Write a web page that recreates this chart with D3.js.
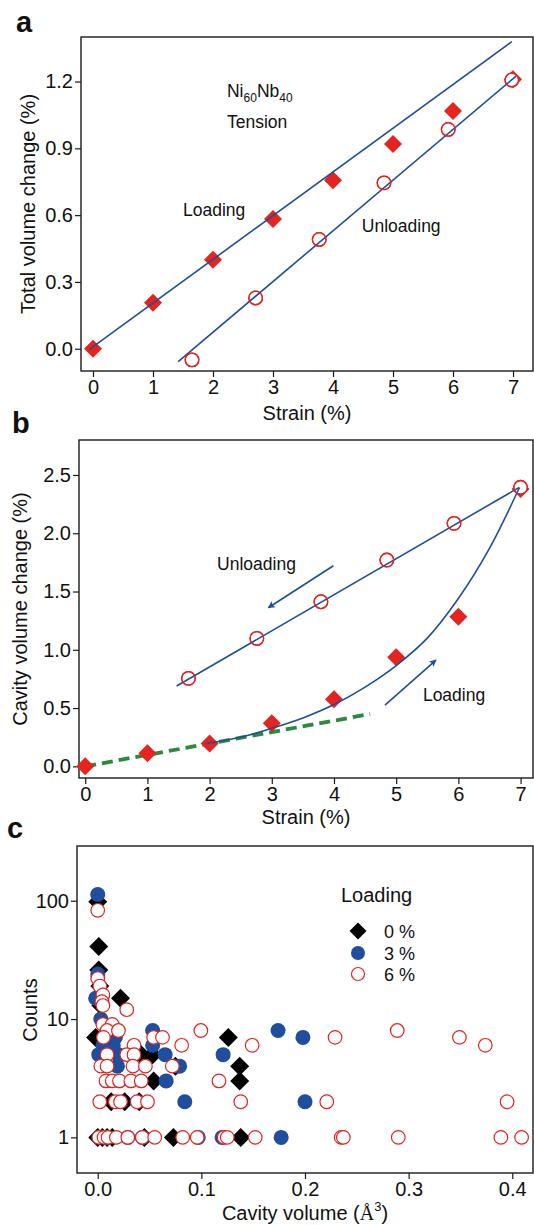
<!DOCTYPE html>
<html><head><meta charset="utf-8">
<script src="https://cdn.jsdelivr.net/npm/d3@7"></script>
<style>
body{margin:0;background:#fff}
svg{display:block;font-family:"Liberation Sans",Arial,sans-serif}
</style></head><body>
<svg id="fig" width="534" height="1225"></svg>
<script>
// ---------- Panel a data ----------
const strainLoadA = [0, 1, 2, 3, 4, 5, 6, 7];
const totalLoadA = [0, 0.206, 0.40, 0.583, 0.757, 0.919, 1.068, 1.21];
const strainUnloadA = [1.65, 2.71, 3.77, 4.85, 5.92, 6.98];
const totalUnloadA = [-0.05, 0.228, 0.491, 0.745, 0.985, 1.207];
const fitLoadA = [[-0.06, -0.003], [6.98, 1.379]];
const fitUnloadA = [[1.42, -0.058], [7.05, 1.224]];
const xTicksA = [0, 1, 2, 3, 4, 5, 6, 7];
const yTicksA = [0, 0.3, 0.6, 0.9, 1.2];

// ---------- Panel b data ----------
const strainLoadB = [0, 1, 2, 3, 4, 5, 6, 7];
const cavLoadB = [0, 0.112, 0.197, 0.369, 0.575, 0.935, 1.284, 2.38];
const strainUnloadB = [1.66, 2.76, 3.79, 4.85, 5.93, 7.0];
const cavUnloadB = [0.755, 1.098, 1.412, 1.77, 2.085, 2.394];
const fitUnloadB = [[1.47, 0.689], [6.98, 2.394]];
const fitLoadB = [[1.95, 0.197], [2.5, 0.25], [3, 0.326], [3.5, 0.415], [4, 0.53], [4.5, 0.68], [5, 0.865], [5.5, 1.1], [6, 1.44], [6.5, 1.87], [6.98, 2.39]];
const linearB = [[0, 0], [4.58, 0.449]];
const arrowUnloadB = [[3.99, 1.721], [2.944, 1.361]];
const arrowLoadB = [[4.82, 0.526], [5.64, 0.912]];
const xTicksB = [0, 1, 2, 3, 4, 5, 6, 7];
const yTicksB = [0, 0.5, 1.0, 1.5, 2.0, 2.5];

// ---------- Panel c data ----------
const volume0 = [0.000, 0.001, 0.001, 0.002, 0.003, 0.022, -0.002, 0.042, 0.053, 0.075, 0.126, 0.137, 0.137, 0.054, 0.013, 0.026, 0.040, 0.000, 0.0045, 0.009, 0.014, 0.045, 0.073, 0.138];
const counts0 = [98, 41, 26, 19, 13, 15, 7, 5, 5, 4, 7, 4, 3, 3, 2, 2, 2, 1, 1, 1, 1, 1, 1, 1];
const volume3 = [0.000, 0.000, -0.002, 0.003, 0.005, 0.015, 0.017, 0.001, 0.006, 0.019, 0.020, 0.053, 0.053, 0.065, 0.079, 0.066, 0.084, 0.121, 0.174, 0.198, 0.200, 0.177, 0.029, 0.043, 0.097, 0.120, 0.010];
const counts3 = [113, 24, 15, 10, 6, 6, 7, 5, 5, 4, 5, 8, 6, 5, 4, 3, 2, 5, 8, 7, 2, 1, 1, 1, 1, 1, 1];
const volume6 = [0.000, 0.000, 0.002, 0.005, 0.004, 0.005, 0.028,
  0.005, 0.014, 0.009, 0.020, 0.0995,
  0.0055, 0.054, 0.0625,
  0.035, 0.081, 0.149,
  0.009, 0.028, 0.035,
  0.003, 0.009, 0.034, 0.046, 0.072,
  0.008, 0.014, 0.021, 0.032, 0.042, 0.117,
  0.002, 0.017, 0.022, 0.038, 0.048, 0.138,
  0.001, 0.006, 0.010, 0.018, 0.029, 0.043, 0.055, 0.082, 0.096, 0.122, 0.125, 0.152,
  0.229, 0.289, 0.349, 0.374, 0.221, 0.395, 0.235, 0.237, 0.290, 0.389, 0.409];
const counts6 = [83, 22, 19, 16, 14, 13, 12,
  9, 9, 8, 8, 8,
  7, 7, 7,
  6, 6, 6,
  5, 5, 5,
  4, 4, 4, 4, 4,
  3, 3, 3, 3, 3, 3,
  2, 2, 2, 2, 2, 2,
  1, 1, 1, 1, 1, 1, 1, 1, 1, 1, 1, 1,
  7, 8, 7, 6, 2, 2, 1, 1, 1, 1, 1];
const xTicksC = [0, 0.1, 0.2, 0.3, 0.4];
const yTicksC = [1, 10, 100];
const legendLabels = ["0 %", "3 %", "6 %"];

// ---------- styling ----------
const RED = "#e5231f", BLUE = "#1f4e9e", GREEN = "#2b8a3c", AX = "#1a1a1a";
const svg = d3.select("#fig");
const diamond = s => `M0,${-s}L${s},0L0,${s}L${-s},0Z`;

function drawAxes(x, y, xMajor, xMinor, yMajor, yMinor, xFmt, yFmt) {
  const g = svg.append("g");
  const [x0, x1] = x.range(), [y0, y1] = y.range();
  const ax = g.append("g").attr("transform", `translate(0,${y0})`);
  ax.call(d3.axisBottom(x).tickValues(xMinor).tickSize(3.5).tickFormat(""));
  ax.call(d3.axisBottom(x).tickValues(xMajor).tickSize(6).tickPadding(3).tickFormat(xFmt));
  const ay = g.append("g").attr("transform", `translate(${x0},0)`);
  ay.call(d3.axisLeft(y).tickValues(yMinor).tickSize(3.5).tickFormat(""));
  ay.call(d3.axisLeft(y).tickValues(yMajor).tickSize(6).tickPadding(2).tickFormat(yFmt));
  g.selectAll(".domain").remove();
  g.selectAll(".tick line").attr("stroke", AX).attr("stroke-width", 1.2);
  g.selectAll(".tick text").attr("font-size", 20).attr("fill", "#111")
    .attr("font-family", '"Liberation Sans",Arial,sans-serif');
  g.append("rect").attr("x", x0).attr("y", y1).attr("width", x1 - x0).attr("height", y0 - y1)
    .attr("fill", "none").attr("stroke", AX).attr("stroke-width", 1.4);
  return g;
}
function text(x, y, s, size, opts = {}) {
  const t = svg.append("text").attr("x", x).attr("y", y).attr("font-size", size).attr("fill", "#111").text(s);
  if (opts.bold) t.attr("font-weight", "bold");
  if (opts.anchor) t.attr("text-anchor", opts.anchor);
  return t;
}
function yTitle(xp, yp, s) {
  return svg.append("text").attr("transform", `translate(${xp},${yp}) rotate(-90)`)
    .attr("text-anchor", "middle").attr("font-size", 20).attr("fill", "#111").text(s);
}
const line = d3.line();

// ================= Panel a =================
{
  const x = d3.scaleLinear().domain([-0.2, 7.333]).range([81, 533]);
  const y = d3.scaleLinear().domain([-0.1, 1.4]).range([371, 37]);
  drawAxes(x, y, xTicksA, d3.range(0.5, 7.3, 1), yTicksA, [0.15, 0.45, 0.75, 1.05, 1.35],
    d3.format("d"), d3.format(".1f"));
  const g = svg.append("g");
  g.selectAll(".dA").data(strainLoadA).join("path")
    .attr("transform", (d, i) => `translate(${x(d)},${y(totalLoadA[i])})`)
    .attr("d", diamond(9)).attr("fill", RED);
  g.selectAll(".cA").data(strainUnloadA).join("circle")
    .attr("cx", d => x(d)).attr("cy", (d, i) => y(totalUnloadA[i])).attr("r", 6.8)
    .attr("fill", "#fff").attr("stroke", RED).attr("stroke-width", 1.3);
  [fitLoadA, fitUnloadA].forEach(f => g.append("path")
    .attr("d", line(f.map(p => [x(p[0]), y(p[1])]))).attr("stroke", BLUE).attr("stroke-width", 1.6).attr("fill", "none"));
  g.selectAll(".cA2").data(strainUnloadA).join("circle")
    .attr("cx", d => x(d)).attr("cy", (d, i) => y(totalUnloadA[i])).attr("r", 6.8)
    .attr("fill", "none").attr("stroke", RED).attr("stroke-width", 1.3);
  // annotations
  const ni = text(x(2.233), y(1.132), "Ni", 17.5);
  ni.append("tspan").attr("font-size", 12).attr("dy", 5).text("60");
  ni.append("tspan").attr("dy", -5).text("Nb");
  ni.append("tspan").attr("font-size", 12).attr("dy", 5).text("40");
  text(x(2.233), y(0.991), "Tension", 17.5);
  text(x(1.5), y(0.596), "Loading", 17.5);
  text(x(4.48), y(0.524), "Unloading", 17.5);
  yTitle(35, 204, "Total volume change (%)");
  text(307, 420, "Strain (%)", 20, {anchor: "middle"});
  text(16, 32, "a", 29, {bold: true});
}

// ================= Panel b =================
{
  const x = d3.scaleLinear().domain([-0.1, 7.2]).range([79, 533]);
  const y = d3.scaleLinear().domain([-0.1, 2.8]).range([778, 440]);
  drawAxes(x, y, xTicksB, d3.range(0.5, 7.2, 1), yTicksB, [0.25, 0.75, 1.25, 1.75, 2.25, 2.75],
    d3.format("d"), d3.format(".1f"));
  const g = svg.append("g");
  g.append("path").attr("d", line(linearB.map(p => [x(p[0]), y(p[1])])))
    .attr("stroke", GREEN).attr("stroke-width", 3.8).attr("stroke-dasharray", "11,6").attr("fill", "none");
  g.selectAll(".dB").data(strainLoadB).join("path")
    .attr("transform", (d, i) => `translate(${x(d)},${y(cavLoadB[i])})`)
    .attr("d", diamond(9)).attr("fill", RED);
  g.selectAll(".cB").data(strainUnloadB).join("circle")
    .attr("cx", d => x(d)).attr("cy", (d, i) => y(cavUnloadB[i])).attr("r", 6.8)
    .attr("fill", "#fff").attr("stroke", RED).attr("stroke-width", 1.3);
  g.append("path").attr("d", line(fitUnloadB.map(p => [x(p[0]), y(p[1])])))
    .attr("stroke", BLUE).attr("stroke-width", 1.6).attr("fill", "none");
  g.append("path").attr("d", d3.line().curve(d3.curveCatmullRom)(fitLoadB.map(p => [x(p[0]), y(p[1])])))
    .attr("stroke", BLUE).attr("stroke-width", 1.6).attr("fill", "none");
  g.selectAll(".cB2").data(strainUnloadB).join("circle")
    .attr("cx", d => x(d)).attr("cy", (d, i) => y(cavUnloadB[i])).attr("r", 6.8)
    .attr("fill", "none").attr("stroke", RED).attr("stroke-width", 1.3);
  // arrows
  const defs = svg.append("defs");
  defs.append("marker").attr("id", "ah").attr("viewBox", "0 0 10 10").attr("refX", 9).attr("refY", 5)
    .attr("markerWidth", 11).attr("markerHeight", 7).attr("markerUnits", "userSpaceOnUse").attr("orient", "auto")
    .append("path").attr("d", "M0,0L10,5L0,10L2,5Z").attr("fill", BLUE);
  [arrowUnloadB, arrowLoadB].forEach(a => g.append("path")
    .attr("d", line(a.map(p => [x(p[0]), y(p[1])]))).attr("stroke", BLUE).attr("stroke-width", 1.6)
    .attr("fill", "none").attr("marker-end", "url(#ah)"));
  text(x(2.12), y(1.684), "Unloading", 17.5);
  text(x(5.43), y(0.56), "Loading", 17.5);
  yTitle(27, 609, "Cavity volume change (%)");
  text(306, 824, "Strain (%)", 20, {anchor: "middle"});
  text(12, 433, "b", 29, {bold: true});
}

// ================= Panel c =================
{
  const x = d3.scaleLinear().domain([-0.02, 0.42]).range([77, 533]);
  const y = d3.scaleLog().domain([0.5, 290]).range([1173, 846]);
  const yMinor = [0.5, 0.6, 0.7, 0.8, 0.9, 2, 3, 4, 5, 6, 7, 8, 9, 20, 30, 40, 50, 60, 70, 80, 90, 200];
  drawAxes(x, y, xTicksC, [0.05, 0.15, 0.25, 0.35], yTicksC, yMinor, d3.format(".1f"), d3.format("d"));
  const g = svg.append("g");
  g.selectAll(".d0").data(volume0).join("path")
    .attr("transform", (d, i) => `translate(${x(d)},${y(counts0[i])})`)
    .attr("d", diamond(9.5)).attr("fill", "#000");
  g.selectAll(".c3").data(volume3).join("circle")
    .attr("cx", d => x(d)).attr("cy", (d, i) => y(counts3[i])).attr("r", 7.5).attr("fill", BLUE);
  g.selectAll(".c6").data(volume6).join("circle")
    .attr("cx", d => x(d)).attr("cy", (d, i) => y(counts6[i])).attr("r", 6.8)
    .attr("fill", "#fff").attr("stroke", RED).attr("stroke-width", 1.2);
  // legend
  text(341, 902, "Loading", 20);
  const ly = [931, 953, 974];
  svg.append("path").attr("transform", `translate(358,${ly[0]})`).attr("d", diamond(8.5)).attr("fill", "#000");
  svg.append("circle").attr("cx", 358).attr("cy", ly[1]).attr("r", 7).attr("fill", BLUE);
  svg.append("circle").attr("cx", 358).attr("cy", ly[2]).attr("r", 6.5).attr("fill", "#fff").attr("stroke", RED).attr("stroke-width", 1.2);
  legendLabels.forEach((s, i) => text(384, ly[i] + 6.5, s, 18));
  yTitle(37, 1010, "Counts");
  const t = text(305, 1220, "Cavity volume (", 20, {anchor: "middle"});
  t.append("tspan").attr("font-family", '"Liberation Serif",serif').attr("font-weight", 300).text("Å");
  t.append("tspan").attr("font-size", 13).attr("dy", -9).text("3");
  t.append("tspan").attr("dy", 9).text(")");
  text(7, 838, "c", 29, {bold: true});
}
</script>
</body></html>
